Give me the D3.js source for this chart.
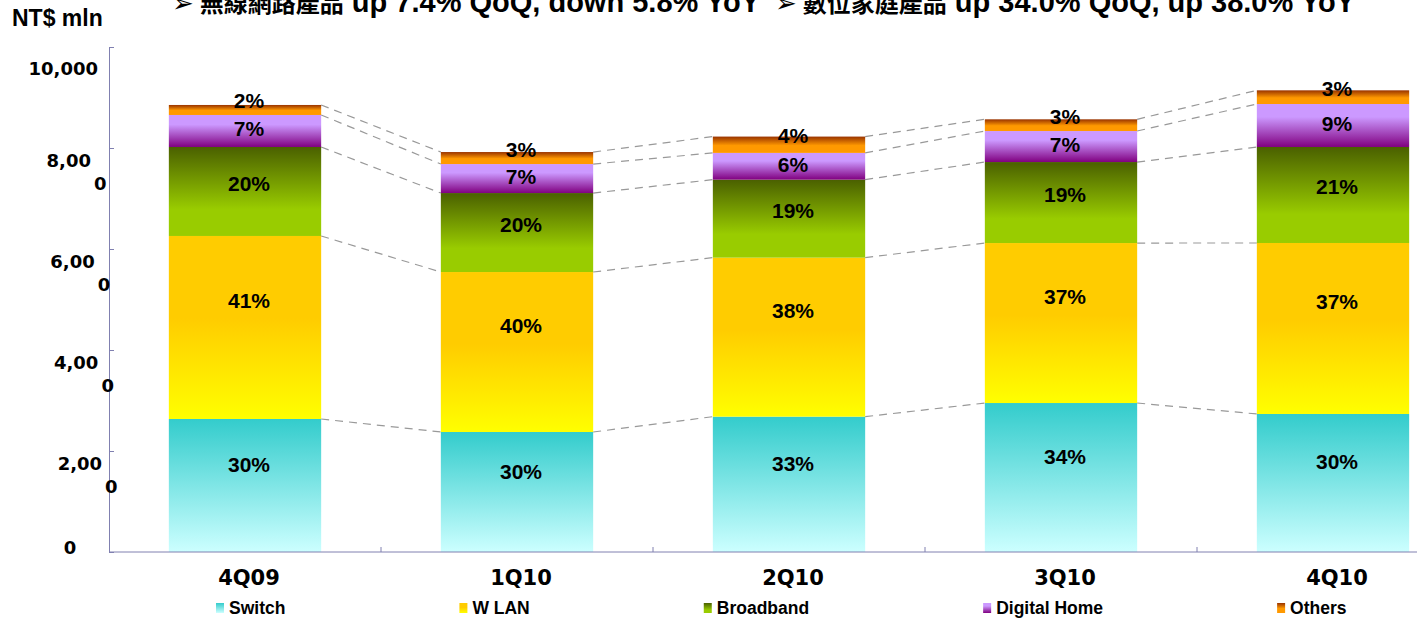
<!DOCTYPE html>
<html>
<head>
<meta charset="utf-8">
<script src="https://cdn.jsdelivr.net/npm/d3@7"></script>
<style>
  body { margin: 0; background: #fff; }
  svg { display: block; }
  .pct { font-family: "Liberation Sans", Arial, sans-serif; font-weight: bold; font-size: 21px; fill: #000; }
  .tick-lbl { font-family: "DejaVu Sans", Verdana, sans-serif; font-weight: bold; font-size: 18px; fill: #000; }
  .cat-lbl { font-family: "DejaVu Sans", Verdana, sans-serif; font-weight: bold; font-size: 21px; fill: #000; }
  .legend text { font-family: "Liberation Sans", Arial, sans-serif; font-weight: bold; font-size: 17.5px; fill: #000; }
</style>
</head>
<body>
<div id="chart"></div>
<script>
// quarters and NT$ mln per product line
var quarters = ["4Q09", "1Q10", "2Q10", "3Q10", "4Q10"];
var seriesNames = ["Switch", "W LAN", "Broadband", "Digital Home", "Others"];
var switchVals    = [2634, 2376, 2680, 2950, 2733];
var wlanVals      = [3624, 3168, 3149, 3168, 3386];
var broadbandVals = [1762, 1564, 1545, 1604, 1901];
var digitalVals   = [634, 574, 529, 614, 851];
var othersVals    = [198, 238, 323, 232, 271];
var yTicks = [0, 2000, 4000, 6000, 8000, 10000];
var titles = [
    { arrow: "➢", cjk: "無線網路產品", txt: " up 7.4% QoQ, down 5.8% YoY" },
    { arrow: "➢", cjk: "數位家庭產品", txt: " up 34.0% QoQ, up 38.0% YoY" }
];

var allVals = [switchVals, wlanVals, broadbandVals, digitalVals, othersVals];

var W = 1417, H = 620;
var axisCol = "#8080b0";

// gradient stops per series, top -> bottom
var grads = [
    [[0, "#33cccc"], [1, "#ccffff"]],
    [[0, "#ffcc00"], [0.45, "#ffcc00"], [1, "#ffff00"]],
    [[0, "#4a6000"], [0.7, "#99cc00"], [1, "#99cc00"]],
    [[0, "#cc99ff"], [0.3, "#cc99ff"], [1, "#800080"]],
    [[0, "#993300"], [0.55, "#ff9900"], [1, "#ff9900"]]
];
// label nudges per series
var lblDy = [-21, -27, -8, -2, -9];

var svg = d3.select("#chart").append("svg")
    .attr("width", W)
    .attr("height", H);

var defs = svg.append("defs");
grads.forEach(function (g, i) {
    var lg = defs.append("linearGradient")
        .attr("id", "g" + i)
        .attr("x1", 0).attr("y1", 0).attr("x2", 0).attr("y2", 1);
    g.forEach(function (s) {
        lg.append("stop").attr("offset", s[0]).attr("stop-color", s[1]);
    });
});

var x = d3.scaleBand()
    .domain(quarters)
    .range([109, 1469])
    .paddingInner(0.44)
    .paddingOuter(0.22);

var y = d3.scaleLinear()
    .domain([0, 10000])
    .range([552, 47]);

// build stacked rows
var rows = quarters.map(function (q, i) {
    var r = { q: q };
    seriesNames.forEach(function (s, k) { r[s] = allVals[k][i]; });
    return r;
});
var stack = d3.stack().keys(seriesNames)(rows);
var totals = rows.map(function (r) { return d3.sum(seriesNames, function (s) { return r[s]; }); });

// dashed connectors between bar segment tops
var conn = svg.append("g");
stack.forEach(function (layer) {
    for (var i = 0; i < quarters.length - 1; i++) {
        conn.append("line")
            .attr("x1", x(quarters[i]) + x.bandwidth())
            .attr("x2", x(quarters[i + 1]))
            .attr("y1", y(layer[i][1]))
            .attr("y2", y(layer[i + 1][1]))
            .attr("stroke", "#999")
            .attr("stroke-width", 1.2)
            .attr("stroke-dasharray", "8,6");
    }
});

// bars
stack.forEach(function (layer, k) {
    svg.append("g").selectAll("rect")
        .data(layer)
        .enter().append("rect")
        .attr("x", function (d) { return x(d.data.q); })
        .attr("width", x.bandwidth())
        .attr("y", function (d) { return y(d[1]); })
        .attr("height", function (d) { return y(d[0]) - y(d[1]); })
        .attr("fill", "url(#g" + k + ")");
});

// percent labels
stack.forEach(function (layer, k) {
    svg.append("g").selectAll("text")
        .data(layer)
        .enter().append("text")
        .attr("class", "pct")
        .attr("text-anchor", "middle")
        .attr("dominant-baseline", "central")
        .attr("x", function (d) { return x(d.data.q) + x.bandwidth() / 2 + 4; })
        .attr("y", function (d) { return y((d[0] + d[1]) / 2) + lblDy[k]; })
        .text(function (d, i) { return Math.round((d[1] - d[0]) / totals[i] * 100) + "%"; });
});

// y axis
var yAxisG = svg.append("g")
    .attr("transform", "translate(109,0)")
    .call(d3.axisRight(y).tickValues(yTicks).tickSize(5).tickFormat(""));
yAxisG.selectAll("path, line").attr("stroke", axisCol);

// y tick labels, wrapped like the original
var fmt = d3.format(",");
yTicks.forEach(function (v) {
    var s = fmt(v);
    if (v === 0) {
        svg.append("text").attr("class", "tick-lbl")
            .attr("text-anchor", "middle")
            .attr("x", 70).attr("y", y(v) - 5)
            .attr("dominant-baseline", "central")
            .text(s);
    } else if (v === 10000) {
        svg.append("text").attr("class", "tick-lbl")
            .attr("text-anchor", "end")
            .attr("x", 98).attr("y", y(v) + 21)
            .attr("dominant-baseline", "central")
            .text(s);
    } else {
        var xe = 91 + (8000 - v) / 2000 * 3.7;
        svg.append("text").attr("class", "tick-lbl")
            .attr("text-anchor", "end")
            .attr("x", xe).attr("y", y(v) + 12)
            .attr("dominant-baseline", "central")
            .text(s.slice(0, -1));
        svg.append("text").attr("class", "tick-lbl")
            .attr("text-anchor", "start")
            .attr("x", xe + 3).attr("y", y(v) + 35)
            .attr("dominant-baseline", "central")
            .text(s.slice(-1));
    }
});

// x axis
var xAxisG = svg.append("g")
    .attr("transform", "translate(0,552)");
xAxisG.append("line")
    .attr("x1", 109).attr("x2", W)
    .attr("stroke", axisCol);
xAxisG.selectAll(".xt")
    .data(quarters.slice(1))
    .enter().append("line")
    .attr("x1", function (d) { return x(d) - x.step() * x.paddingInner() / 2; })
    .attr("x2", function (d) { return x(d) - x.step() * x.paddingInner() / 2; })
    .attr("y1", 0).attr("y2", -5)
    .attr("stroke", axisCol);

svg.append("g").selectAll("text")
    .data(quarters)
    .enter().append("text")
    .attr("class", "cat-lbl")
    .attr("text-anchor", "middle")
    .attr("x", function (d) { return x(d) + x.bandwidth() / 2 + 4; })
    .attr("y", 585)
    .text(function (d) { return d; });

// unit label
svg.append("text")
    .attr("x", 12).attr("y", 26)
    .style("font-family", "'Liberation Sans', Arial, sans-serif")
    .style("font-weight", "bold")
    .style("font-size", "23px")
    .text("NT$ mln");

// headline bullets (cut off at the top in the original)
var titleX = [172, 775];
titles.forEach(function (t, i) {
    var tx = svg.append("text")
        .attr("x", titleX[i]).attr("y", 12)
        .style("font-family", "'Liberation Sans', Arial, sans-serif")
        .style("font-weight", "bold")
        .style("font-size", "29px");
    tx.append("tspan")
        .style("font-family", "'DejaVu Sans', sans-serif")
        .style("font-size", "26px")
        .text(t.arrow);
    tx.append("tspan")
        .style("font-family", "'Noto Sans CJK TC', sans-serif")
        .style("font-size", "24px")
        .attr("dx", 6)
        .text(t.cjk);
    tx.append("tspan").text(t.txt);
});

// legend
var legend = svg.append("g").attr("class", "legend");
var lx = 216;
seriesNames.forEach(function (s, k) {
    legend.append("rect")
        .attr("x", lx).attr("y", 603)
        .attr("width", 8).attr("height", 10)
        .attr("fill", "url(#g" + k + ")");
    var t = legend.append("text")
        .attr("x", lx + 13).attr("y", 608)
        .attr("dominant-baseline", "central")
        .text(s);
    lx += 13 + t.node().getComputedTextLength() + 174;
});
</script>
</body>
</html>
